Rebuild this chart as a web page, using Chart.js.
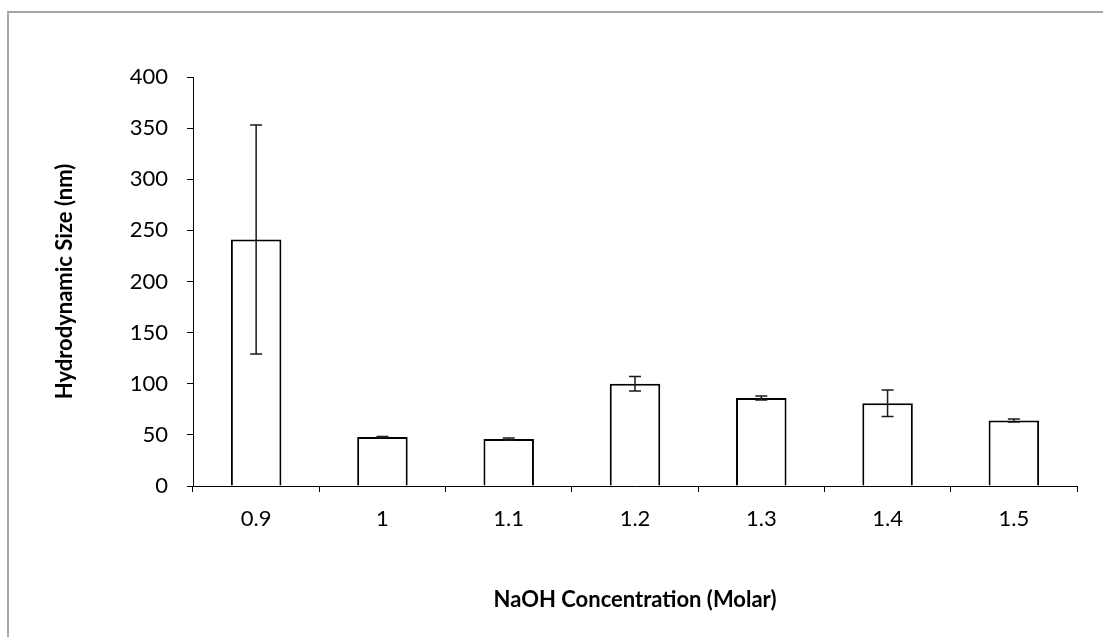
<!DOCTYPE html>
<html>
<head>
<meta charset="utf-8">
<script src="https://cdn.jsdelivr.net/npm/chart.js@4/dist/chart.umd.min.js"></script>
<style>
  html, body { margin: 0; padding: 0; background: #fff; }
  #wrap { width: 1103px; height: 637px; }
</style>
</head>
<body>
<div id="wrap"><canvas id="chart" width="1103" height="637"></canvas></div>
<script>
// NaOH concentration categories
const concentrations = ["0.9", "1", "1.1", "1.2", "1.3", "1.4", "1.5"];
// mean hydrodynamic size (nm)
const sizes = [241, 48, 46, 100, 86, 81, 64];
// +/- error (nm)
const errors = [112, 0.5, 1, 7, 2, 13, 1.5];
const yTicks = [0, 50, 100, 150, 200, 250, 300, 350, 400];

// grey frame round the whole figure
const framePlugin = {
  id: "frame",
  beforeDraw(chart) {
    const ctx = chart.ctx;
    ctx.save();
    ctx.fillStyle = "#fff";
    ctx.fillRect(0, 0, chart.width, chart.height);
    ctx.strokeStyle = "#a6a6a6";
    ctx.lineWidth = 2;
    ctx.strokeRect(8, 12, chart.width + 20, chart.height + 20);
    ctx.restore();
  }
};

// draw the error bars through the chart's own scales
const errorBars = {
  id: "errorBars",
  afterDatasetsDraw(chart) {
    const ctx = chart.ctx;
    const x = chart.scales.x;
    const y = chart.scales.y;
    ctx.save();
    ctx.strokeStyle = "#1a1a1a";
    ctx.lineWidth = 1.5;
    sizes.forEach((v, i) => {
      const px = x.getPixelForValue(i);
      const top = y.getPixelForValue(v + errors[i]);
      const bot = y.getPixelForValue(v - errors[i]);
      const cap = 6;
      ctx.beginPath();
      ctx.moveTo(px, top); ctx.lineTo(px, bot);
      ctx.moveTo(px - cap, top); ctx.lineTo(px + cap, top);
      ctx.moveTo(px - cap, bot); ctx.lineTo(px + cap, bot);
      ctx.stroke();
    });
    ctx.restore();
  }
};

const font = { family: "Lato, 'Open Sans', sans-serif", size: 22 };

new Chart(document.getElementById("chart"), {
  type: "bar",
  data: {
    labels: concentrations,
    datasets: [{
      data: sizes,
      backgroundColor: "#ffffff",
      borderColor: "#000000",
      borderWidth: 2,
      barPercentage: 0.4,
      categoryPercentage: 1.0
    }]
  },
  options: {
    responsive: false,
    animation: false,
    layout: { padding: { left: 48, top: 77, right: 26, bottom: 20 } },
    plugins: { legend: { display: false }, tooltip: { enabled: false } },
    scales: {
      x: {
        afterFit: (s) => { s.height = 131; },
        grid: { drawOnChartArea: false, drawTicks: true, tickLength: 6, color: "#000", offset: true },
        border: { color: "#000", width: 1 },
        ticks: { color: "#000", font: font, padding: 14, maxRotation: 0 },
        title: { display: true, text: "NaOH Concentration (Molar)", color: "#000",
                 font: { ...font, weight: "bold" } }
      },
      y: {
        min: 0,
        max: 400,
        afterFit: (s) => { s.width = 145; },
        afterBuildTicks: (s) => { s.ticks = yTicks.map(v => ({ value: v })); },
        grid: { drawOnChartArea: false, drawTicks: true, tickLength: 6, color: "#000" },
        border: { color: "#000", width: 1 },
        ticks: { color: "#000", font: font, padding: 19 },
        title: { display: true, text: "Hydrodynamic Size (nm)", color: "#000",
                 font: { ...font, weight: "bold" } }
      }
    }
  },
  plugins: [framePlugin, errorBars]
});
</script>
</body>
</html>
